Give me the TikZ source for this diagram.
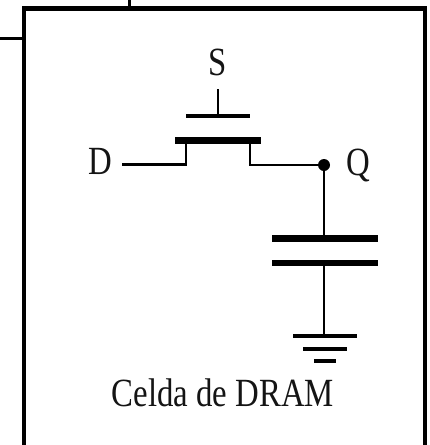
\documentclass[tikz,border=0pt]{standalone}
\usepackage{fontspec}
\setmainfont[FakeStretch=0.82]{Liberation Serif}
\tikzset{
  x=1pt,y=-1pt,
  frame/.style={line width=4.6pt,line cap=butt},
  stub/.style={line width=3.4pt},
  wire/.style={line width=2.2pt},
  label/.style={font=\fontsize{40}{40}\selectfont,inner sep=0pt,text=black!92},
  gateplate/.style={line width=3.6pt},
  channel/.style={line width=7pt},
  capplate/.style={line width=7pt},
  gnd/.style={line width=4pt},
  junction/.style={circle,fill=black,inner sep=0pt,minimum size=12pt}
}
\begin{document}
\begin{tikzpicture}
\useasboundingbox (0,0) rectangle (430,445);
\coordinate (fbl) at (24,445);
\coordinate (ftl) at (24,8.5);
\coordinate (ftr) at (425,8.5);
\coordinate (fbr) at (425,445);
\draw[frame,line join=miter] (fbl) -- (ftl) -- (ftr) -- (fbr);
\coordinate (st) at (129.5,0);
\coordinate (stb) at (129.5,8.5);
\draw[stub] (st) -- (stb);
\coordinate (sl) at (0,38.5);
\coordinate (slr) at (24,38.5);
\draw[stub] (sl) -- (slr);
\node[label] (S) at (218,62) {S};
\node[label] (D) at (100,161) {D};
\node[label,anchor=center] (Q) at (358,165) {Q};
\node[label] (title) at (223,393) {Celda de DRAM};
% gate
\coordinate (gl) at (186,116);
\coordinate (gr) at (250,116);
\coordinate (gm) at (218,116);
\coordinate (gt) at (218,89);
\draw[gateplate] (gl) -- (gr);
\draw[wire] (gt) -- (gm);
% channel
\coordinate (cl) at (175,140.5);
\coordinate (cr) at (261,140.5);
\draw[channel] (cl) -- (cr);
\coordinate (dw) at (122,164.5);
\coordinate (dc) at (186,164.5);
\coordinate (dt) at (186,141);
\draw[wire] (dw) -- (dc) -- (dt);
\node[junction] (J) at (324,165) {};
\coordinate (qc) at (250,165);
\coordinate (qt) at (250,141);
\draw[wire] (qt) -- (qc) -- (J.center);
% capacitor
\coordinate (p1l) at (272,238.5);
\coordinate (p1r) at (378,238.5);
\coordinate (p1m) at (324,238.5);
\coordinate (p2l) at (272,263);
\coordinate (p2r) at (378,263);
\coordinate (p2m) at (324,263);
\draw[capplate] (p1l) -- (p1r);
\draw[capplate,line width=6.5pt] (p2l) -- (p2r);
\draw[wire] (J.center) -- (p1m);
\coordinate (g1m) at (324,336);
\draw[wire] (p2m) -- (g1m);
% ground
\coordinate (g1l) at (293,336);
\coordinate (g1r) at (357,336);
\coordinate (g2l) at (303,348.5);
\coordinate (g2r) at (347,348.5);
\coordinate (g3l) at (314,361);
\coordinate (g3r) at (336,361);
\draw[gnd] (g1l) -- (g1r);
\draw[gnd] (g2l) -- (g2r);
\draw[gnd] (g3l) -- (g3r);
\end{tikzpicture}
\end{document}
